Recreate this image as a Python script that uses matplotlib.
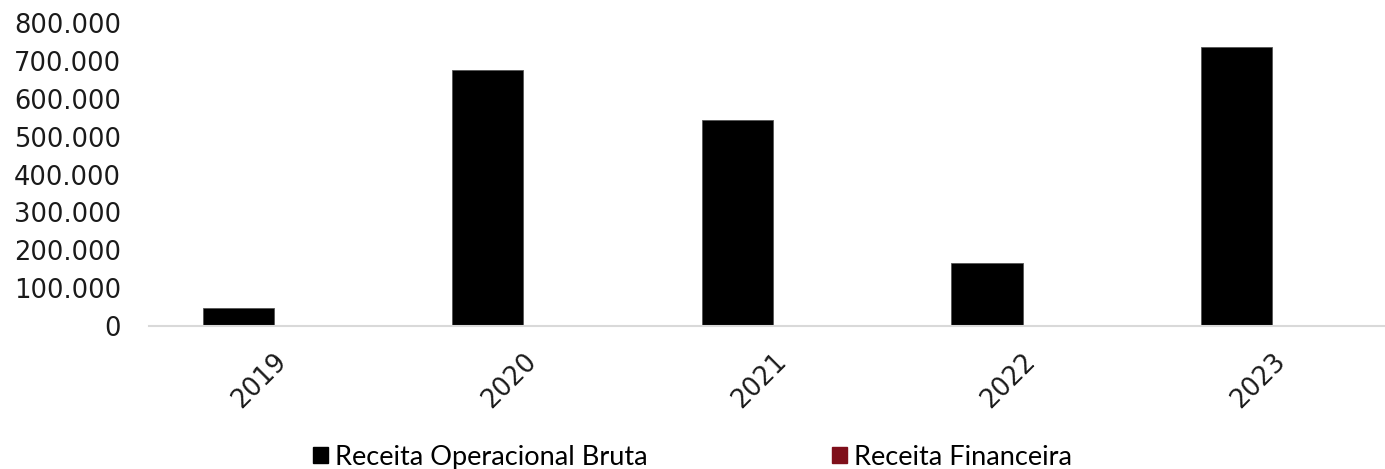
import matplotlib.pyplot as plt
from matplotlib.patches import Patch
import numpy as np

years = ["2019", "2020", "2021", "2022", "2023"]
receita_operacional = [47000, 675000, 543000, 166000, 736000]
receita_financeira = [0, 0, 0, 0, 0]

plt.rcParams["font.family"] = ["Lato", "DejaVu Sans"]

fig = plt.figure(figsize=(13.85, 4.69), dpi=100)
# category width ~249.5px; the axis runs a bit past the right edge of the picture
ax = fig.add_axes([149 / 1385, 1 - 326 / 469, 1248 / 1385, (326 - 23) / 469])

x = np.arange(len(years))
w = 0.285
ax.bar(x - w / 2, receita_operacional, width=w, color="black", edgecolor="#555555", linewidth=0.6)
ax.bar(x + w / 2, receita_financeira, width=w, color="#7f0f1a")

ax.set_xlim(-0.5, len(years) - 0.5)
ax.set_ylim(0, 800000)
ax.set_yticks(range(0, 800001, 100000))
ax.set_yticklabels([f"{v:,}".replace(",", ".") for v in range(0, 800001, 100000)],
                   fontsize=18.5, family="DejaVu Sans")
ax.set_xticks(x)
ax.set_xticklabels(years, fontsize=18.5, family="DejaVu Sans", rotation=45, ha="right",
                   rotation_mode="anchor")
ax.tick_params(axis="both", length=0, colors="#1a1a1a")
ax.tick_params(axis="y", pad=20)
ax.tick_params(axis="x", pad=16)

for s in ["top", "right", "left"]:
    ax.spines[s].set_visible(False)
ax.spines["bottom"].set_color("#d9d9d9")
ax.spines["bottom"].set_linewidth(1.5)

handles = [Patch(color="black"), Patch(color="#7f0f1a")]
fig.legend(handles, ["Receita Operacional Bruta", "Receita Financeira"],
           loc="center", bbox_to_anchor=(0.5, 1 - 457 / 469), ncol=2, frameon=False,
           fontsize=19.5, handlelength=0.55, handleheight=0.55, handletextpad=0.25,
           columnspacing=6.8)

fig.savefig("out.png", dpi=100)
